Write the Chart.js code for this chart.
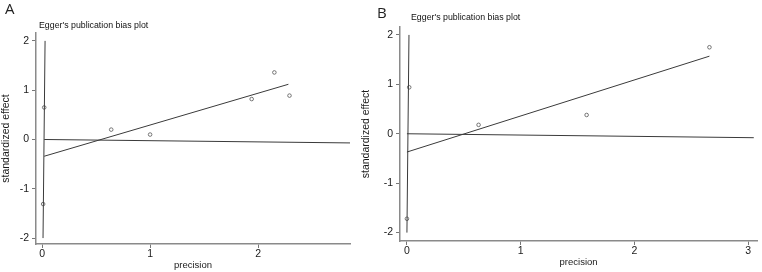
<!DOCTYPE html>
<html lang="en">
<head>
    <meta charset="UTF-8">
    <title>Egger's publication bias plot</title>
    <script src="https://cdn.jsdelivr.net/npm/chart.js"></script>
    <style>
        body {
            margin: 0;
            background: #fff;
            font-family: "Liberation Sans", Arial, sans-serif;
        }
        .page {
            position: relative;
            width: 762px;
            height: 272px;
            overflow: hidden;
        }
        .panel {
            position: absolute;
            top: 0;
            height: 272px;
        }
        .letter {
            position: absolute;
            font-family: "Open Sans", sans-serif;
            font-size: 15px;
            color: #222;
            line-height: 1;
        }
        .plot-title {
            position: absolute;
            font-size: 8.8px;
            color: #111;
            line-height: 1;
            white-space: nowrap;
        }
    </style>
</head>
<body>
<div class="page">
    <div class="panel" style="left:0; width:381px;">
        <canvas id="chart-a" width="381" height="272"></canvas>
    </div>
    <div class="panel" style="left:360px; width:402px;">
        <canvas id="chart-b" width="402" height="272"></canvas>
    </div>
    <div class="letter" style="left:5px; top:1px;">A</div>
    <div class="letter" style="left:377px; top:5px;">B</div>
    <div class="plot-title" style="left:39px; top:21px;">Egger's publication bias plot</div>
    <div class="plot-title" style="left:411px; top:13px;">Egger's publication bias plot</div>
</div>

<script>
    // panel A - studies
    const precisionA = [0.02, 0.01, 0.64, 1.00, 1.94, 2.15, 2.29];
    const effectA = [0.65, -1.31, 0.20, 0.10, 0.82, 1.36, 0.89];
    // regression line, reference line at 0, intercept CI
    const fitXA = [0.02, 2.28];
    const fitYA = [-0.34, 1.12];
    const zeroXA = [0.02, 2.85];
    const zeroYA = [0, -0.07];
    const ciXA = [0.028, 0.009];
    const ciYA = [2, -2];

    // panel B - studies
    const precisionB = [0.02, 0.00, 0.63, 1.58, 2.66];
    const effectB = [0.94, -1.72, 0.18, 0.38, 1.75];
    const fitXB = [0.00, 2.66];
    const fitYB = [-0.37, 1.57];
    const zeroXB = [0.00, 3.05];
    const zeroYB = [0, -0.08];
    const ciXB = [0.018, 0.0];
    const ciYB = [2, -2];

    const xTicksA = [0, 1, 2];
    const xTicksB = [0, 1, 2, 3];
    const yTicks = [-2, -1, 0, 1, 2];

    function pairs(xs, ys) {
        return xs.map((x, i) => ({ x: x, y: ys[i] }));
    }

    function lineSet(xs, ys) {
        return {
            data: pairs(xs, ys),
            showLine: true,
            borderColor: '#3a3a3a',
            borderWidth: 1,
            pointRadius: 0,
            fill: false
        };
    }

    function makeChart(id, opt) {
        const ctx = document.getElementById(id).getContext('2d');
        return new Chart(ctx, {
            type: 'scatter',
            data: {
                datasets: [
                    lineSet(opt.ciX, opt.ciY),
                    lineSet(opt.zeroX, opt.zeroY),
                    lineSet(opt.fitX, opt.fitY),
                    {
                        data: pairs(opt.px, opt.py),
                        pointRadius: 1.8,
                        pointBorderWidth: 0.8,
                        pointBorderColor: '#555',
                        pointBackgroundColor: '#fff',
                        showLine: false
                    }
                ]
            },
            options: {
                responsive: false,
                animation: false,
                devicePixelRatio: 1,
                layout: { padding: opt.padding },
                plugins: {
                    legend: { display: false },
                    tooltip: { enabled: false }
                },
                scales: {
                    x: {
                        type: 'linear',
                        min: opt.xMin,
                        max: opt.xMax,
                        afterBuildTicks: s => { s.ticks = opt.xTicks.map(v => ({ value: v })); },
                        afterFit: s => { s.height = opt.xHeight; },
                        grid: { drawOnChartArea: false, tickLength: 4, color: '#777', lineWidth: 1 },
                        border: { color: '#8a8a8a', width: 1.5 },
                        ticks: {
                            padding: 0,
                            maxRotation: 0,
                            color: '#1a1a1a',
                            font: { family: 'Liberation Sans', size: 10.5 }
                        },
                        title: {
                            display: true,
                            text: 'precision',
                            color: '#1a1a1a',
                            padding: { top: 0, bottom: opt.xTitlePad },
                            font: { family: 'Liberation Sans', size: 9.5 }
                        }
                    },
                    y: {
                        type: 'linear',
                        min: opt.yMin,
                        max: opt.yMax,
                        afterBuildTicks: s => { s.ticks = yTicks.map(v => ({ value: v })); },
                        afterFit: s => { s.width = opt.yWidth; },
                        grid: { drawOnChartArea: false, tickLength: 4, color: '#777', lineWidth: 1 },
                        border: { color: '#8a8a8a', width: 1.5 },
                        ticks: {
                            padding: 3,
                            color: '#1a1a1a',
                            font: { family: 'Liberation Sans', size: 10.5 }
                        },
                        title: {
                            display: true,
                            text: 'standardized effect',
                            color: '#1a1a1a',
                            padding: { top: 0, bottom: 0 },
                            font: { family: 'Liberation Sans', size: 10.5 }
                        }
                    }
                }
            }
        });
    }

    makeChart('chart-a', {
        px: precisionA, py: effectA,
        fitX: fitXA, fitY: fitYA,
        zeroX: zeroXA, zeroY: zeroYA,
        ciX: ciXA, ciY: ciYA,
        xTicks: xTicksA,
        xMin: -0.056, xMax: 2.85,
        yMin: -2.12, yMax: 2.16,
        padding: { top: 33, right: 31, bottom: 0, left: 0 },
        yWidth: 36, xHeight: 28, xTitlePad: 1
    });

    makeChart('chart-b', {
        px: precisionB, py: effectB,
        fitX: fitXB, fitY: fitYB,
        zeroX: zeroXB, zeroY: zeroYB,
        ciX: ciXB, ciY: ciYB,
        xTicks: xTicksB,
        xMin: -0.061, xMax: 3.08,
        yMin: -2.17, yMax: 2.16,
        padding: { top: 27, right: 4, bottom: 0, left: 0 },
        yWidth: 40, xHeight: 31, xTitlePad: 4
    });
</script>
</body>
</html>
